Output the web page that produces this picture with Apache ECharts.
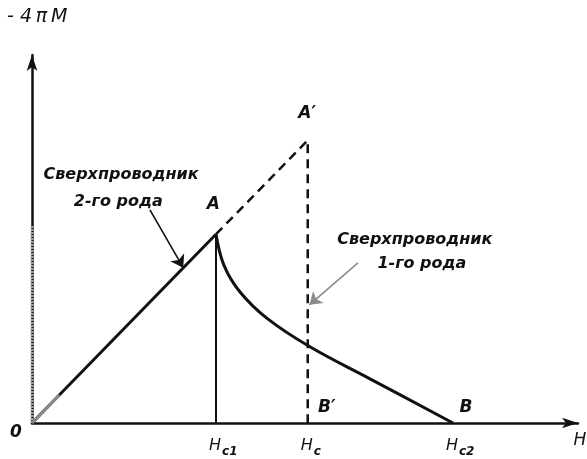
<!DOCTYPE html>
<html>
<head>
<meta charset="utf-8">
<script src="https://cdn.jsdelivr.net/npm/echarts@6/dist/echarts.min.js"></script>
<style>
  html, body { margin: 0; padding: 0; background: #fff; }
  #chart { width: 587px; height: 459px; }
</style>
</head>
<body>
<div id="chart"></div>
<script>
// Magnetisation curves -4πM(H) of type I and type II superconductors
// (field H and magnetisation in arbitrary units).

// critical fields on the H axis
var criticalFieldNames = ['c1', 'c', 'c2'];
var criticalFields = [3.37, 5.05, 7.71];          // Hc1, Hc, Hc2

// Meissner line 0 -> A (type II) continued to A' (type I)
var meissnerH = [0, 3.37, 5.05];
var meissnerM = [0, 5.13, 7.68];

// mixed-state branch of the type II superconductor, A -> B
var mixedH = [3.37, 3.52, 3.81, 4.30, 5.09, 6.19, 7.71];
var mixedM = [5.13, 4.27, 3.56, 2.85, 2.07, 1.20, 0];

// point labels: name, H, M
var pointNames = ['A', "A\u2032", "B\u2032", 'B'];
var pointH = [3.32, 5.04, 5.40, 7.95];
var pointM = [5.93, 8.40, 0.43, 0.41];

// captions with their pointer arrows
var captionLines = ['Сверхпроводник', '2-го рода', 'Сверхпроводник', '1-го рода'];
var captionH = [1.63, 1.58, 7.01, 7.14];
var captionM = [6.74, 6.00, 4.97, 4.32];
var pointer2 = [[2.16, 5.79], [2.77, 4.22]];
var pointer1 = [[5.97, 4.35], [5.08, 3.21]];

var INK = '#111';
var FONT = '"DejaVu Sans", sans-serif';

function zip(xs, ys) { return xs.map(function (x, i) { return [x, ys[i]]; }); }

// text-only scatter layer (no visible symbol)
function textLayer(data, label) {
  return {
    type: 'scatter', symbolSize: 0, silent: true, data: data,
    itemStyle: { opacity: 1 }, label: Object.assign({ show: true, color: INK, opacity: 1 }, label)
  };
}

var chart = echarts.init(document.getElementById('chart'), null, { renderer: 'canvas' });

var series = [
  { // O -> A, solid
    type: 'line', data: zip(meissnerH.slice(0, 2), meissnerM.slice(0, 2)),
    symbol: 'none', lineStyle: { color: INK, width: 3 }, z: 3
  },
  { // A -> A' -> Hc, dashed (type I)
    type: 'line',
    data: [[meissnerH[1], meissnerM[1]], [meissnerH[2], meissnerM[2]], [criticalFields[1], 0]],
    symbol: 'none', lineStyle: { color: INK, width: 2.5, type: [9, 6] }, z: 3
  },
  { // drop at Hc1
    type: 'line', data: [[criticalFields[0], meissnerM[1]], [criticalFields[0], 0]],
    symbol: 'none', lineStyle: { color: INK, width: 2 }, z: 3
  },
  { // mixed state A -> B
    type: 'line', data: zip(mixedH, mixedM), smooth: 0.4,
    symbol: 'none', lineStyle: { color: INK, width: 3 }, z: 3
  },
  { // faded print near the origin
    type: 'line', data: [[0, 0], [0, 5.38]], symbol: 'none',
    lineStyle: { color: '#a0a0a0', width: 3, type: [2, 1] }, z: 5
  },
  {
    type: 'line', data: [[0, 0], [0.5, 0.76]], symbol: 'none',
    lineStyle: { color: '#8a8a8a', width: 3 }, z: 5
  },
  { // pointer arrows
    type: 'lines', coordinateSystem: 'cartesian2d', symbol: ['none', 'arrow'], symbolSize: [7, 12],
    data: [
      { coords: pointer2, lineStyle: { color: INK } },
      { coords: pointer1, lineStyle: { color: '#8c8c8c' } }
    ],
    lineStyle: { width: 1.6, opacity: 1 }, z: 4
  },
  textLayer(
    zip(pointH, pointM).map(function (p, i) { return { value: p, name: pointNames[i] }; }),
    { position: 'inside', formatter: '{b}', fontFamily: FONT, fontStyle: 'italic', fontWeight: 'bold', fontSize: 17 }
  ),
  textLayer(
    zip(captionH, captionM).map(function (p, i) { return { value: p, name: captionLines[i] }; }),
    { position: 'inside', formatter: '{b}', fontFamily: FONT, fontStyle: 'italic', fontWeight: 'bold', fontSize: 16 }
  ),
  textLayer(
    criticalFields.map(function (h, i) { return { value: [h, 0], name: criticalFieldNames[i] }; }),
    {
      position: 'bottom', distance: 11, align: 'left', offset: [-7, 0],
      formatter: function (p) { return '{h|H}{s|' + p.name + '}'; },
      rich: {
        h: { fontFamily: FONT, fontStyle: 'italic', fontSize: 16, color: INK },
        s: { fontFamily: FONT, fontStyle: 'italic', fontWeight: 'bold', fontSize: 12, color: INK, padding: [12, 0, 0, 1] }
      }
    }
  ),
  textLayer(
    [{ value: [0, 0], name: '0' }],
    { position: 'inside', offset: [-16, 10], formatter: '{b}', fontFamily: FONT, fontStyle: 'italic', fontWeight: 'bold', fontSize: 17 }
  ),
  textLayer(
    [{ value: [10, 0], name: 'H' }],
    { position: 'inside', offset: [2, 18], formatter: '{b}', fontFamily: FONT, fontStyle: 'italic', fontSize: 17 }
  )
];

chart.setOption({
  animation: false,
  backgroundColor: '#fff',
  grid: { left: 32, right: 9, top: 55, bottom: 36, containLabel: false },
  xAxis: {
    type: 'value', min: 0, max: 10,
    axisLine: { show: true, symbol: ['none', 'arrow'], symbolSize: [8, 16], lineStyle: { color: INK, width: 2.5 } },
    axisTick: { show: false }, axisLabel: { show: false }, splitLine: { show: false }
  },
  yAxis: {
    type: 'value', min: 0, max: 10,
    name: '- 4\u2009\u03C0\u2009M', nameLocation: 'end', nameGap: 28,
    nameTextStyle: { fontFamily: FONT, fontStyle: 'italic', fontSize: 19, color: INK, align: 'left', padding: [0, 0, 0, -25] },
    axisLine: { show: true, symbol: ['none', 'arrow'], symbolSize: [8, 16], lineStyle: { color: INK, width: 2.5 } },
    axisTick: { show: false }, axisLabel: { show: false }, splitLine: { show: false }
  },
  series: series
});
</script>
</body>
</html>
